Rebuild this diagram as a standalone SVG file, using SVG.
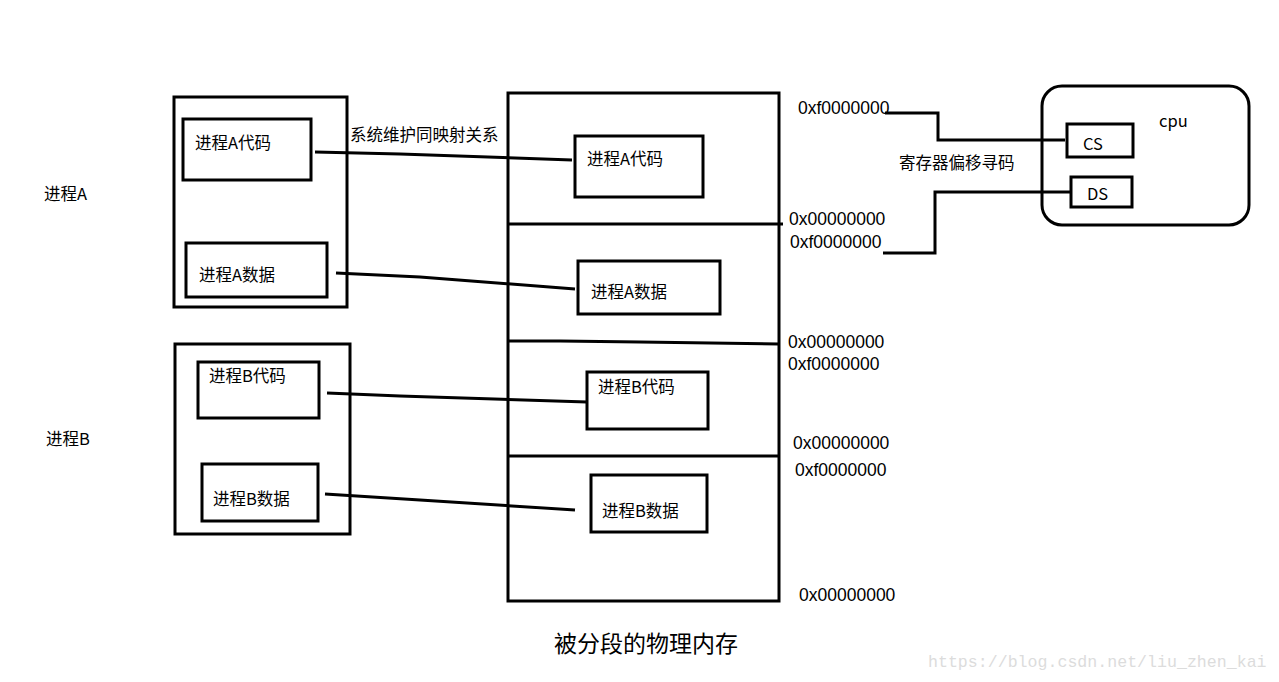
<svg xmlns="http://www.w3.org/2000/svg" width="1279" height="682" viewBox="0 0 1279 682">
<style>
.b{fill:none;stroke:#000;stroke-width:3}
.l{fill:none;stroke:#000;stroke-width:3;stroke-linecap:butt}
text{font-family:"Noto Sans CJK SC","Liberation Sans",sans-serif;font-size:16.5px;fill:#000;dominant-baseline:central}
.a{font-family:"Liberation Sans","Noto Sans",sans-serif;font-size:17.5px}
.t{font-size:23px}
.w{font-family:"Liberation Mono","DejaVu Sans Mono",monospace;font-size:16.6px;fill:#dcdcdc}
</style>
<rect width="1279" height="682" fill="#fff"/>
<g id="procA">
<rect class="b" x="174" y="97" width="173" height="210"/>
<text x="44" y="193">进程A</text>
</g>
<g id="procA-code"><rect class="b" x="183" y="119" width="128" height="61"/><text x="195" y="142">进程A代码</text></g>
<g id="procA-data"><rect class="b" x="186" y="243" width="141" height="54"/><text x="199" y="274">进程A数据</text></g>
<g id="procB">
<rect class="b" x="175" y="344" width="175" height="190"/>
<text x="46" y="438">进程B</text>
</g>
<g id="procB-code"><rect class="b" x="198" y="362" width="121" height="56"/><text x="209" y="375">进程B代码</text></g>
<g id="procB-data"><rect class="b" x="202" y="464" width="116" height="57"/><text x="213" y="498">进程B数据</text></g>
<g id="memory">
<rect class="b" x="508" y="93" width="271" height="508"/>
<line class="l" x1="508" y1="224" x2="783" y2="224"/>
<polyline class="l" points="508,341 560,341 640,342 779,344"/>
<line class="l" x1="508" y1="456" x2="779" y2="456"/>
<text class="t" x="554" y="642">被分段的物理内存</text>
</g>
<g id="memA-code"><rect class="b" x="575" y="136" width="128" height="61"/><text x="587" y="158">进程A代码</text></g>
<g id="memA-data"><rect class="b" x="578" y="261" width="142" height="53"/><text x="591" y="291">进程A数据</text></g>
<g id="memB-code"><rect class="b" x="587" y="372" width="121" height="57"/><text x="598" y="386">进程B代码</text></g>
<g id="memB-data"><rect class="b" x="591" y="475" width="116" height="57"/><text x="602" y="510">进程B数据</text></g>
<g id="addresses">
<text class="a" x="798" y="108">0xf0000000</text>
<text class="a" x="789" y="219">0x00000000</text>
<text class="a" x="790" y="242">0xf0000000</text>
<text class="a" x="788" y="342">0x00000000</text>
<text class="a" x="788" y="364">0xf0000000</text>
<text class="a" x="793" y="443">0x00000000</text>
<text class="a" x="795" y="470">0xf0000000</text>
<text class="a" x="799" y="595">0x00000000</text>
</g>
<g id="cpu">
<rect class="b" x="1042" y="86" width="207" height="139" rx="20"/>
<text x="1159" y="120">cpu</text>
</g>
<g id="cs"><rect class="b" x="1067" y="124" width="66" height="33"/><text x="1083" y="143">CS</text></g>
<g id="ds"><rect class="b" x="1071" y="177" width="61" height="30"/><text x="1087" y="193">DS</text></g>
<g id="connectors">
<polyline class="l" points="315,152 400,154 572,160"/>
<polyline class="l" points="336,273 420,277 575,289"/>
<polyline class="l" points="327,393 400,396 587,402"/>
<polyline class="l" points="325,494 420,500 575,510"/>
<polyline class="l" points="885,113 938,113 938,140 1065,140"/>
<polyline class="l" points="883,253 935,253 935,192 1071,192"/>
<text x="350" y="134">系统维护同映射关系</text>
<text x="899" y="162">寄存器偏移寻码</text>
</g>
<text class="w" x="928" y="662">https://blog.csdn.net/liu_zhen_kai</text>
</svg>
